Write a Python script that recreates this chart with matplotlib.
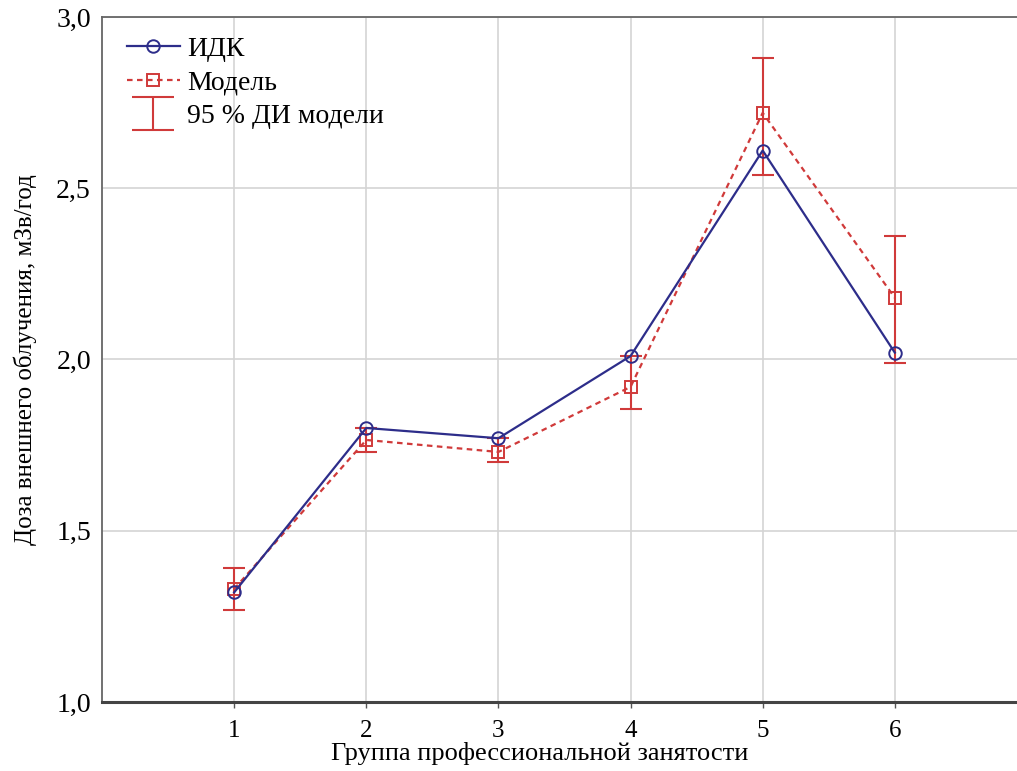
import numpy as np
import matplotlib
matplotlib.use("Agg")
import matplotlib.pyplot as plt
from matplotlib.lines import Line2D
from matplotlib.legend_handler import HandlerErrorbar

plt.rcParams['font.family'] = ['Liberation Serif', 'DejaVu Serif']

# data
groups = [1, 2, 3, 4, 5, 6]
idk = [1.32, 1.80, 1.77, 2.01, 2.61, 2.02]
model = [1.33, 1.765, 1.73, 1.92, 2.72, 2.18]
ci_low = [1.27, 1.73, 1.70, 1.855, 2.54, 1.99]
ci_high = [1.39, 1.80, 1.77, 2.01, 2.88, 2.36]

blue = '#2d2d8a'
red = '#d03a3a'

fig = plt.figure(figsize=(10.17, 7.71), dpi=100)
ax = fig.add_axes([0.1003, 0.0895, 0.9095, 0.8885])

model = np.array(model)
yerr = [model - np.array(ci_low), np.array(ci_high) - model]

ax.errorbar(groups, model, yerr=yerr, fmt='none', ecolor=red, elinewidth=1.5,
            capsize=8, capthick=1.5, zorder=3)
ax.plot(groups, model, color=red, ls=(0, (2.5, 2)), lw=1.6, marker='s',
        ms=8, mfc='none', mec=red, mew=1.4, zorder=4)
ax.plot(groups, idk, color=blue, lw=1.6, marker='o', ms=9,
        mfc='none', mec=blue, mew=1.4, zorder=5)

ax.set_xlim(0, 7)
ax.set_ylim(1.0, 3.0)
ax.set_xticks(groups)
ax.set_yticks([1.0, 1.5, 2.0, 2.5, 3.0])
ax.set_yticklabels(['1,0', '1,5', '2,0', '2,5', '3,0'])
ax.tick_params(axis='x', labelsize=18, length=4, width=1, pad=9, color='#555555')
ax.tick_params(axis='y', labelsize=20, length=0, pad=8)
ax.grid(True, color='#d4d4d4', lw=1.2)
ax.set_axisbelow(True)

for s in ['left', 'top', 'right']:
    ax.spines[s].set_color('#666666')
    ax.spines[s].set_linewidth(1.3)
ax.spines['bottom'].set_color('#444444')
ax.spines['bottom'].set_linewidth(2.2)

ax.set_ylabel('Доза внешнего облучения, мЗв/год', fontsize=18, labelpad=14)
fig.text(540 / 1017, 1 - 760 / 771, 'Группа профессиональной занятости',
         fontsize=19, ha='center', va='baseline')

# legend handles (the CI one gets wider caps like in the original)
h1 = Line2D([], [], color=blue, lw=1.6, marker='o', ms=9, mfc='none', mew=1.4)
h2 = Line2D([], [], color=red, lw=1.6, ls=(0, (2.5, 2)), marker='s', ms=8,
            mfc='none', mew=1.4)
h3 = ax.errorbar([np.nan], [np.nan], yerr=[[0.1], [0.1]], fmt='none', ecolor=red,
                 elinewidth=1.5, capsize=15, capthick=1.5)
ax.legend([h1, h2, h3], ['ИДК', 'Модель', '95 % ДИ модели'], loc='upper left',
          frameon=False, fontsize=20, handlelength=1.9, handletextpad=0.25,
          labelspacing=0.3, bbox_to_anchor=(0.0, 1.008), borderaxespad=0.5,
          handler_map={type(h3): HandlerErrorbar(yerr_size=0.6)})

fig.savefig('out.png', dpi=100)
